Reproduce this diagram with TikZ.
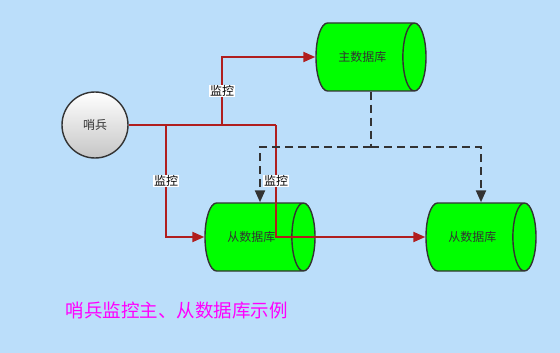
\documentclass[tikz,border=0pt]{standalone}
\usepackage{fontspec}
\setmainfont{Noto Sans CJK SC}
\definecolor{bgBlue}{HTML}{BBDEFA}
\definecolor{dbGreen}{HTML}{00FF00}
\definecolor{monRed}{HTML}{B01E1E}
\definecolor{lineGray}{HTML}{333333}
\definecolor{capMagenta}{HTML}{FF00FF}
\usetikzlibrary{arrows.meta,positioning,calc,shapes.geometric}

\begin{document}
\begin{tikzpicture}[
    x=1pt, y=-1pt,
    db/.style={cylinder, draw=lineGray, line width=1.4pt, fill=dbGreen,
               aspect=1.3, minimum width=68pt, minimum height=110pt,
               anchor=shape center,
               font=\fontsize{12}{14}\selectfont, text=black!80},
    guard/.style={circle, draw=lineGray, line width=1.4pt, minimum size=66pt,
                  top color=white, bottom color=gray!45,
                  font=\fontsize{12}{14}\selectfont, text=black!80},
    mon/.style={-{Triangle[length=12pt,width=10pt]}, line width=2pt, monRed},
    rep/.style={-{Triangle[length=12pt,width=10pt]}, line width=2.2pt, lineGray,
                dash pattern=on 8pt off 5pt},
    tag/.style={fill=white, inner sep=1pt, font=\fontsize{12}{14}\selectfont,
                text=black}
  ]
    \fill[bgBlue] (0,0) rectangle (560,353);
    \useasboundingbox (0,0) rectangle (560,353);

    \node[guard] (sentinel) at (95,125) {哨兵};
    \node[db] (master) at (371,57) {主数据库};
    \node[db] (slaveA) at (260,237) {从数据库};
    \node[db] (slaveB) at (481,237) {从数据库};

    % monitoring lines
    \coordinate (tapL) at (166,125);
    \coordinate (tapM) at (222,125);
    \coordinate (tapR) at (276,125);
    \draw[monRed, line width=2pt] (sentinel.east) -- (tapR);
    \draw[mon] (tapM) |- node[tag, pos=0.25] (tagM) {监控} (master.west);
    \draw[mon] (tapL) |- node[tag, pos=0.25] (tagL) {监控} (slaveA.west);
    \draw[mon] (tapR) |- node[tag, pos=0.25] (tagR) {监控} (slaveB.west);

    % replication
    \coordinate (masterOut) at (master.shape center |- master.south);
    \coordinate (split) at (masterOut |- 0,147);
    \draw[lineGray, line width=2.2pt, dash pattern=on 8pt off 5pt] (masterOut) -- (split);
    \draw[rep] (split) -| (slaveA.shape center |- slaveA.north);
    \draw[rep] (split) -| (slaveB.shape center |- slaveB.north);

    \node[anchor=west, text=capMagenta, font=\fontsize{18.5}{20}\selectfont]
      (caption) at (62,311) {哨兵监控主、从数据库示例};
  \end{tikzpicture}
\end{document}
